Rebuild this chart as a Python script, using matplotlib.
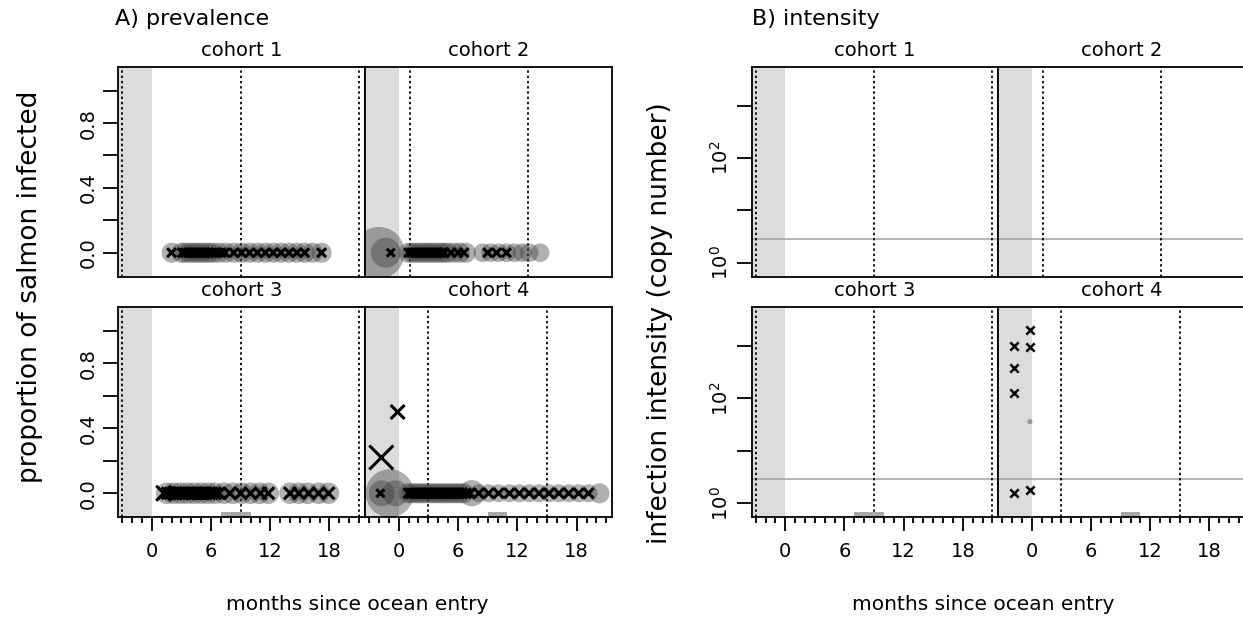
import numpy as np
import matplotlib
matplotlib.use('Agg')
import matplotlib.pyplot as plt

plt.rcParams['font.family'] = 'DejaVu Sans'

# --------------------------
# data
# --------------------------
cohorts = ['cohort 1', 'cohort 2', 'cohort 3', 'cohort 4']

# dotted reference lines (months) and grey sampling bar per cohort
vlines = [[-3, 9, 21], [1.1, 13.1], [-3, 9, 21], [3, 15]]
bars = [None, None, (7, 10), (9, 11)]

# prevalence: grey circles (sample size, drawn at 0)
circ_x = [
    [2.0, 3.0, 3.4, 3.8, 4.2, 4.6, 5.0, 5.4, 5.8, 6.2, 6.8, 7.5, 8.3, 9.1,
     9.9, 10.7, 11.5, 12.3, 13.1, 13.9, 14.7, 15.5, 16.3, 17.2],
    [-2.0, -1.3, 1.0, 1.4, 1.8, 2.2, 2.6, 3.0, 3.4, 3.8, 4.2, 4.6, 5.0, 5.6,
     6.2, 6.8, 8.5, 9.3, 10.1, 10.9, 11.7, 12.5, 13.2, 14.3],
    [1.5, 2.2, 2.9, 3.6, 4.3, 5.0, 5.7, 6.4, 7.3, 8.2, 9.1, 10.0, 10.9,
     11.8, 14.0, 14.9, 15.8, 16.9, 17.9],
    [-1.7, -0.9, -0.3, 1.0, 1.4, 1.8, 2.2, 2.6, 3.0, 3.4, 3.8, 4.2, 4.6, 5.0,
     5.4, 5.8, 6.2, 6.6, 7.4, 8.1, 9.1, 10.1, 11.2, 12.2, 13.2, 14.2, 15.2,
     16.2, 17.2, 18.2, 19.2, 20.3],
]
circ_n = [
    [35, 35, 35, 35, 35, 35, 35, 35, 35, 35, 35, 35, 35, 35, 35, 35, 35, 35,
     35, 35, 35, 35, 35, 35],
    [230, 78, 35, 35, 35, 35, 35, 35, 35, 35, 35, 35, 35, 35, 35, 35, 30, 30,
     30, 30, 30, 30, 30, 30],
    [40, 40, 40, 40, 40, 40, 40, 40, 40, 40, 40, 40, 40, 40, 40, 40, 40, 40,
     40],
    [58, 200, 58, 35, 35, 35, 35, 35, 35, 35, 35, 35, 35, 35, 35, 35, 35, 35,
     60, 28, 28, 28, 28, 28, 28, 28, 28, 28, 28, 28, 28, 35],
]

# prevalence: observed proportion infected (crosses)
cross_x = [
    [2.0, 3.1, 3.4, 3.7, 4.0, 4.3, 4.6, 4.9, 5.2, 5.5, 5.8, 6.1, 6.5, 7.0,
     7.4, 8.3, 9.1, 9.9, 10.7, 11.5, 12.3, 13.1, 13.9, 14.7, 15.5, 17.2],
    [-0.8, 1.0, 1.3, 1.6, 1.9, 2.2, 2.5, 2.8, 3.1, 3.4, 3.7, 4.0, 4.3, 4.6,
     5.3, 6.0, 6.6, 9.0, 9.9, 10.9],
    [1.2, 1.6, 1.9, 2.2, 2.5, 2.8, 3.1, 3.4, 3.7, 4.0, 4.3, 4.6, 4.9, 5.2,
     5.5, 5.8, 6.1, 6.4, 6.8, 7.9, 9.0, 10.0, 11.0, 11.8, 14.0, 14.9, 15.9,
     16.9, 17.9],
    [-1.85, -1.75, -0.1, 1.0, 1.3, 1.6, 1.9, 2.2, 2.5, 2.8, 3.1, 3.4, 3.7,
     4.0, 4.3, 4.6, 4.9, 5.2, 5.5, 5.8, 6.1, 6.4, 6.8, 7.2, 8.1, 9.1, 10.1,
     11.2, 12.2, 13.2, 14.2, 15.2, 16.2, 17.2, 18.2, 19.2],
]
cross_y = [
    [0.0] * 26,
    [0.0] * 20,
    [0.0] * 29,
    [0.0, 0.22, 0.5] + [0.0] * 33,
]
cross_n = [
    [9] * 26,
    [8] + [9] * 19,
    [15] + [12] * 28,
    [8, 24, 14] + [10] * 33,
]

# intensity (copy number), only cohort 4 has positives
int_x = [[], [], [], [-1.8, -1.8, -1.8, -1.8, -0.2, -0.2, -0.2]]
int_y = [[], [], [], [1000, 380, 126, 1.55, 2040, 950, 1.8]]
int_grey_x = [[], [], [], [-0.2]]
int_grey_y = [[], [], [], [36]]
threshold = 2.9

# --------------------------
# layout (pixels)
# --------------------------
W, H = 1243, 628
fig = plt.figure(figsize=(W / 100, H / 100), dpi=100)

rows = [(66.7, 276.7), (306.7, 517.3)]
cols_prev = [(118.3, 365.0), (365.0, 612.3)]
cols_int = [(751.7, 998.3), (998.3, 1245.0)]
XLIM = (-3.4, 21.6)


def px_axes(x0, x1, y0, y1):
    return fig.add_axes([x0 / W, 1 - y1 / H, (x1 - x0) / W, (y1 - y0) / H])


def decorate(ax, i, r, c):
    ax.set_xlim(*XLIM)
    ax.axvspan(-10, 0, color='#dcdcdc', zorder=0, lw=0)
    for v in vlines[i]:
        ax.axvline(v, color='black', lw=1.3, ls=(0, (1.3, 1.6)), zorder=1)
    if bars[i] is not None:
        ax.axvspan(bars[i][0], bars[i][1], ymin=0, ymax=0.027,
                   color='#a8a8a8', lw=0, zorder=1)
    for s in ax.spines.values():
        s.set_linewidth(1.3)
    if r == 1:
        ax.set_xticks([0, 6, 12, 18])
        ax.set_xticks(range(-3, 22), minor=True)
        ax.tick_params(axis='x', which='major', direction='out', length=10,
                       width=1.3, labelsize=14, pad=8)
        ax.tick_params(axis='x', which='minor', direction='out', length=4.3,
                       width=1.3)
    else:
        ax.tick_params(axis='x', which='both', bottom=False,
                       labelbottom=False)
    if c == 1:
        ax.tick_params(axis='y', which='both', left=False, labelleft=False)
    fig.text((ax.get_position().x0 + ax.get_position().x1) / 2,
             1 - (rows[r][0] - 16) / H, cohorts[i], ha='center',
             va='center', fontsize=14)


for i in range(4):
    r, c = divmod(i, 2)

    # --- prevalence
    ax = px_axes(cols_prev[c][0], cols_prev[c][1], rows[r][0], rows[r][1])
    ax.set_ylim(-0.148, 1.148)
    ax.scatter(circ_x[i], np.zeros(len(circ_x[i])), s=np.array(circ_n[i]) * 6,
               color='#3a3a3a', alpha=0.4, edgecolors='none', zorder=2)
    ax.scatter(cross_x[i], cross_y[i], s=(np.array(cross_n[i]) * 0.72) ** 2,
               marker='x', color='black', linewidths=2.2, zorder=3)
    if c == 0:
        ax.set_yticks([0, 0.2, 0.4, 0.6, 0.8, 1.0])
        ax.set_yticklabels(['0.0', '', '0.4', '', '0.8', ''], rotation=90,
                           va='center')
        ax.tick_params(axis='y', direction='out', length=10.5, width=1.3,
                       labelsize=14, pad=4)
    decorate(ax, i, r, c)

    # --- intensity
    ax = px_axes(cols_int[c][0], cols_int[c][1], rows[r][0], rows[r][1])
    ax.set_yscale('log')
    ax.set_ylim(10 ** -0.267, 10 ** 3.75)
    ax.axhline(threshold, color='#a8a8a8', lw=1.2, zorder=1)
    if int_x[i]:
        ax.scatter(int_x[i], int_y[i], marker='x', s=36, color='black',
                   linewidths=1.8, zorder=3)
        ax.scatter(int_grey_x[i], int_grey_y[i], s=14, color='#999999',
                   edgecolors='none', zorder=3)
    ax.minorticks_off()
    if c == 0:
        ax.set_yticks([1, 10, 100, 1000])
        ax.set_yticklabels(['$10^0$', '', '$10^2$', ''], rotation=90,
                           va='center')
        ax.tick_params(axis='y', which='major', direction='out', length=10.5,
                       width=1.3, labelsize=14, pad=4)
    ax.tick_params(axis='y', which='minor', left=False)
    decorate(ax, i, r, c)

fig.text(115 / W, 1 - 19 / H, 'A) prevalence', ha='left', va='center',
         fontsize=16)
fig.text(752 / W, 1 - 19 / H, 'B) intensity', ha='left', va='center',
         fontsize=16)
fig.text(30 / W, 1 - 287 / H, 'proportion of salmon infected', rotation=90,
         ha='center', va='center', fontsize=19)
fig.text(660 / W, 1 - 323 / H, 'infection intensity (copy number)',
         rotation=90, ha='center', va='center', fontsize=19)
fig.text(357 / W, 1 - 605 / H, 'months since ocean entry', ha='center',
         va='center', fontsize=14.5)
fig.text(983 / W, 1 - 605 / H, 'months since ocean entry', ha='center',
         va='center', fontsize=14.5)

fig.savefig('out.png', dpi=100)
